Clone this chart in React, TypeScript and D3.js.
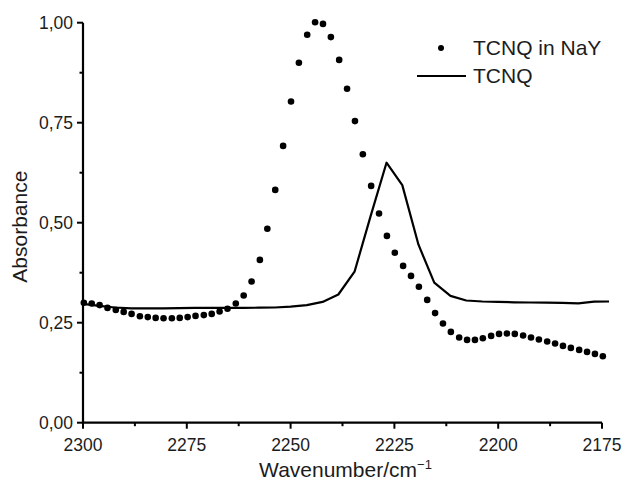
import React from "react";
import * as d3 from "d3";

// TCNQ in NaY (dots)
const dotWavenumber = [
  2299.8, 2297.9, 2296.0, 2294.1, 2292.1, 2290.2, 2288.3, 2286.3, 2284.4, 2282.5,
  2280.6, 2278.6, 2276.7, 2274.8, 2272.9, 2270.9, 2269.0, 2267.1, 2265.2, 2263.2,
  2261.3, 2259.4, 2257.4, 2255.6, 2253.7, 2251.8, 2249.9, 2248.0, 2246.0, 2244.1,
  2242.2, 2240.3, 2238.3, 2236.4, 2234.5, 2232.6, 2230.6, 2228.7, 2226.8, 2224.9,
  2222.9, 2221.0, 2219.1, 2217.1, 2215.2, 2213.3, 2211.4, 2209.4, 2207.5, 2205.6,
  2203.7, 2201.7, 2199.8, 2197.9, 2196.0, 2194.0, 2192.1, 2190.2, 2188.2, 2186.3,
  2184.4, 2182.5, 2180.5, 2178.6, 2176.7, 2174.8,
];
const dotAbsorbance = [
  0.300, 0.298, 0.294, 0.287, 0.282, 0.277, 0.272, 0.266, 0.264, 0.262,
  0.261, 0.261, 0.262, 0.264, 0.267, 0.269, 0.272, 0.278, 0.285, 0.298,
  0.318, 0.353, 0.407, 0.485, 0.582, 0.692, 0.803, 0.900, 0.970, 1.001,
  0.997, 0.964, 0.907, 0.835, 0.754, 0.671, 0.592, 0.523, 0.467, 0.425,
  0.392, 0.367, 0.340, 0.307, 0.274, 0.248, 0.227, 0.213, 0.207, 0.207,
  0.211, 0.217, 0.222, 0.223, 0.222, 0.218, 0.213, 0.208, 0.203, 0.198,
  0.192, 0.187, 0.182, 0.177, 0.172, 0.166,
];

// TCNQ (solid line)
const lineWavenumber = [
  2300.0, 2296.1, 2292.3, 2288.4, 2284.6, 2280.7, 2276.9, 2273.0, 2269.2, 2265.3,
  2261.5, 2257.6, 2253.8, 2250.0, 2246.1, 2242.3, 2238.5, 2234.6, 2230.8, 2226.9,
  2223.1, 2219.2, 2215.4, 2211.5, 2207.7, 2203.8, 2200.0, 2196.1, 2192.3, 2188.4,
  2184.6, 2180.7, 2176.9, 2173.3,
];
const lineAbsorbance = [
  0.297, 0.292, 0.288, 0.286, 0.286, 0.286, 0.2865, 0.287, 0.287, 0.287,
  0.287, 0.2875, 0.288, 0.290, 0.294, 0.302, 0.3205, 0.3775, 0.514, 0.650,
  0.594, 0.445, 0.350, 0.317, 0.3055, 0.303, 0.302, 0.301, 0.3005, 0.300,
  0.2995, 0.2985, 0.3025, 0.303,
];

const xMajorTicks = [2300, 2275, 2250, 2225, 2200, 2175];
const xMinorTicks = [2287.5, 2262.5, 2237.5, 2212.5, 2187.5];
const yMajorTicks = [0, 0.25, 0.5, 0.75, 1.0];
const yMinorTicks = [0.125, 0.375, 0.625, 0.875];
const seriesNames = ["TCNQ in NaY", "TCNQ"];

const FONT = "'Liberation Sans', Arial, Helvetica, sans-serif";
const TEXT = "#1c1c1c";

export default function App() {
  const x = d3.scaleLinear().domain([2300, 2175]).range([83, 602]);
  const y = d3.scaleLinear().domain([0, 1]).range([422.7, 22.7]);
  const fmt = (v: number) => d3.format(".2f")(v).replace(".", ",");

  const linePts: [number, number][] = lineWavenumber.map((w, i) => [w, lineAbsorbance[i]]);
  const lineGen = d3
    .line<[number, number]>()
    .x((d) => x(d[0]))
    .y((d) => y(d[1]));

  const x0 = x(2300);
  const x1 = x(2175);
  const y0 = y(0);
  const yTop = y(1);

  return (
    <svg
      width={624}
      height={481}
      style={{ position: "absolute", left: 0, top: 0, background: "#fff" }}
      fontFamily={FONT}
    >
      <rect x={0} y={0} width={624} height={481} fill="#fff" />

      {/* TCNQ line */}
      <path d={lineGen(linePts) || ""} fill="none" stroke="#000" strokeWidth={2.2} strokeLinejoin="round" />

      {/* TCNQ in NaY dots */}
      {dotWavenumber.map((w, i) => (
        <circle key={i} cx={x(w)} cy={y(dotAbsorbance[i])} r={3.3} fill="#000" />
      ))}

      {/* Axes */}
      <line x1={x0} y1={yTop} x2={x0} y2={y0 + 1} stroke="#000" strokeWidth={2.2} />
      <line x1={x0 - 1} y1={y0} x2={x1} y2={y0} stroke="#000" strokeWidth={2.2} />

      {yMajorTicks.map((t) => (
        <g key={"ym" + t}>
          <line x1={x0 - 6} x2={x0} y1={y(t)} y2={y(t)} stroke="#000" strokeWidth={2} />
          <text x={73} y={y(t)} dy="0.35em" textAnchor="end" fontSize={17.5} fill={TEXT}>
            {fmt(t)}
          </text>
        </g>
      ))}
      {yMinorTicks.map((t) => (
        <line key={"yn" + t} x1={x0 - 3.5} x2={x0} y1={y(t)} y2={y(t)} stroke="#000" strokeWidth={2} />
      ))}

      {xMajorTicks.map((t) => (
        <g key={"xm" + t}>
          <line x1={x(t)} x2={x(t)} y1={y0} y2={y0 + 6} stroke="#000" strokeWidth={2} />
          <text x={x(t)} y={450.5} textAnchor="middle" fontSize={17.5} fill={TEXT}>
            {String(t)}
          </text>
        </g>
      ))}
      {xMinorTicks.map((t) => (
        <line key={"xn" + t} x1={x(t)} x2={x(t)} y1={y0} y2={y0 + 3.5} stroke="#000" strokeWidth={2} />
      ))}

      {/* Axis titles */}
      <text x={(x0 + x1) / 2 + 3} y={477} textAnchor="middle" fontSize={21} fill={TEXT}>
        Wavenumber/cm
        <tspan fontSize={13} dy={-8}>
          −1
        </tspan>
      </text>
      <text
        transform={`translate(27, ${(yTop + y0) / 2 + 4}) rotate(-90)`}
        textAnchor="middle"
        fontSize={21}
        fill={TEXT}
      >
        Absorbance
      </text>

      {/* Legend */}
      <circle cx={441} cy={48} r={3} fill="#000" />
      <text x={473} y={55} fontSize={21} fill={TEXT}>
        {seriesNames[0]}
      </text>
      <line x1={417} x2={466} y1={76} y2={76} stroke="#000" strokeWidth={2.2} />
      <text x={473} y={82.5} fontSize={21} fill={TEXT}>
        {seriesNames[1]}
      </text>
    </svg>
  );
}
